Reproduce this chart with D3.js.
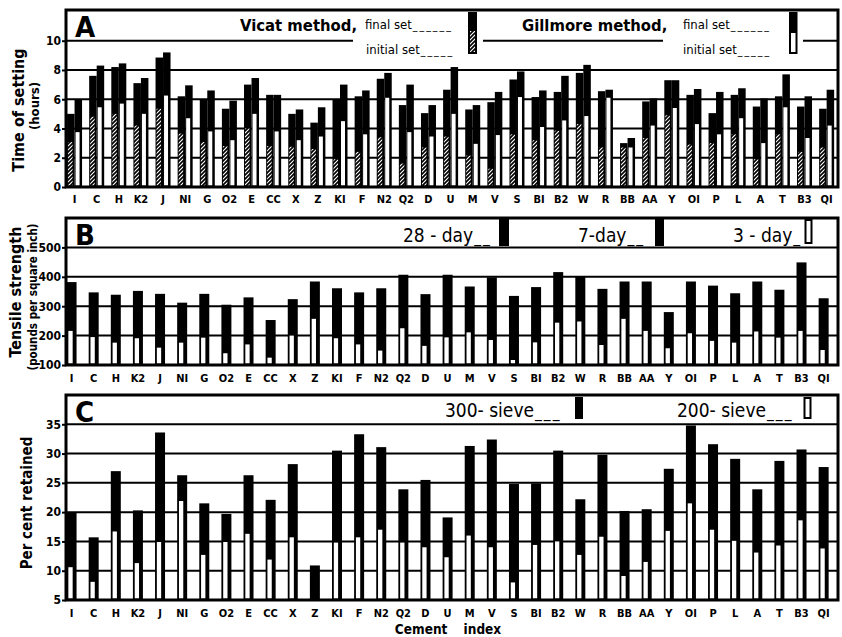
<!DOCTYPE html>
<html>
<head>
<meta charset="utf-8">
<script src="https://cdn.jsdelivr.net/npm/d3@7"></script>
<style>
  body { margin: 0; background: #fff; }
  svg text { font-family: "DejaVu Sans Condensed", "DejaVu Sans", sans-serif; fill: #000; }
</style>
</head>
<body>
<svg id="chart" width="842" height="637"></svg>
<script>
// Cement test results. Three panels share the
// same cement index on x: A setting time, B tensile strength, C fineness.

const cements = ['I', 'C', 'H', 'K2', 'J', 'NI', 'G', 'O2', 'E', 'CC', 'X', 'Z', 'KI', 'F', 'N2', 'Q2', 'D', 'U',
  'M', 'V', 'S', 'BI', 'B2', 'W', 'R', 'BB', 'AA', 'Y', 'OI', 'P', 'L', 'A', 'T', 'B3', 'QI'];

// A: time of setting, hours
const vicatFinal = [5.0, 7.6, 8.2, 7.1, 8.85, 6.2, 5.95, 5.35, 7.0, 6.3, 5.0, 4.4, 6.0, 6.2, 7.4, 5.6, 5.05, 6.65,
  5.3, 5.8, 7.35, 6.15, 6.5, 7.8, 6.55, 3.0, 5.85, 7.3, 6.3, 5.05, 6.3, 5.5, 6.2, 5.5, 5.35];
const vicatInitial = [3.07, 4.8, 5.0, 4.2, 5.35, 3.65, 3.07, 2.8, 4.0, 2.8, 2.75, 2.6, 1.9, 2.4, 3.4, 1.6, 2.7, 3.45,
  2.15, 1.25, 3.6, 3.2, 3.85, 4.3, 2.7, 2.7, 3.35, 4.9, 2.9, 3.0, 3.6, 1.9, 3.6, 2.4, 2.7];
const gillmoreFinal = [5.95, 8.3, 8.45, 7.45, 9.2, 6.95, 6.6, 5.9, 7.45, 6.3, 5.3, 5.45, 7.0, 6.6, 7.8, 7.0, 5.6, 8.2,
  5.6, 6.5, 7.9, 6.6, 7.6, 8.35, 6.65, 3.35, 6.05, 7.3, 6.7, 6.5, 6.75, 6.05, 7.7, 6.2, 6.65];
const gillmoreInitial = [3.75, 5.45, 5.7, 5.0, 6.25, 4.7, 3.8, 3.2, 5.0, 3.8, 3.2, 3.45, 4.5, 3.6, 6.1, 3.75, 3.45, 5.0,
  2.95, 3.55, 6.15, 4.1, 4.55, 4.85, 6.1, 2.7, 4.2, 5.4, 4.3, 3.6, 4.7, 3.0, 5.45, 3.35, 4.2];

// B: tensile strength, pounds per square inch (7-day values are hidden
// inside the black bars in the print, so only 28-day and 3-day are kept)
const tensile28 = [382, 347, 339, 352, 342, 312, 342, 305, 330, 253, 324, 384, 361, 347, 361, 407, 341, 407,
  367, 398, 335, 365, 416, 401, 359, 384, 384, 280, 384, 370, 344, 384, 356, 449, 327];
const tensile3 = [216, 195, 176, 191, 159, 176, 193, 140, 170, 125, 200, 257, 191, 170, 149, 225, 165, 194,
  211, 185, 117, 177, 244, 248, 168, 257, 216, 157, 208, 182, 176, 214, 193, 216, 151];

// C: per cent retained on sieve (Z shows no 200-sieve bar)
const sieve300 = [20.0, 15.7, 27.0, 20.3, 33.6, 26.3, 21.5, 19.7, 26.3, 22.1, 28.2, 10.9, 30.5, 33.3, 31.1, 23.9, 25.5, 19.1,
  31.3, 32.4, 24.8, 24.9, 30.5, 22.2, 29.8, 20.2, 20.5, 27.4, 34.8, 31.6, 29.1, 23.9, 28.75, 30.7, 27.7];
const sieve200 = [10.6, 8.1, 16.7, 11.3, 14.9, 21.9, 12.7, 14.9, 16.3, 11.9, 15.7, null, 14.8, 15.7, 17.0, 14.8, 14.0, 12.3,
  16.0, 14.0, 8.0, 14.4, 15.0, 12.7, 15.8, 9.1, 11.5, 16.8, 21.5, 17.0, 15.1, 13.1, 14.3, 18.6, 13.8];

const ticksA = [0, 2, 4, 6, 8, 10];
const ticksB = [100, 200, 300, 400, 500];
const ticksC = [5, 10, 15, 20, 25, 30, 35];

const d3 = window.d3;
const svg = d3.select('#chart');
const X0 = 66;
const X1 = 838;

const x = d3.scaleBand().domain(cements).range([60.5, 834.7]).padding(0);
const cx = (c) => x(c) + x.bandwidth() / 2;

const yA = d3.scaleLinear().domain([0, 12.1]).range([187, 10]);
const yB = d3.scaleLinear().domain([100, 600]).range([365, 218]);
const yC = d3.scaleLinear().domain([5, 40]).range([600, 395]);

// diagonal hatch for Vicat initial set
const pat = svg.append('defs').append('pattern')
  .attr('id', 'hatch').attr('width', 4).attr('height', 4).attr('patternUnits', 'userSpaceOnUse');
pat.append('rect').attr('width', 4).attr('height', 4).attr('fill', '#fff');
pat.append('path').attr('d', 'M-1,1 l2,-2 M0,4 l4,-4 M3,5 l2,-2').attr('stroke', '#000').attr('stroke-width', 1.7);

function gridLines(y, values) {
  svg.append('g').selectAll('line').data(values).join('line')
    .attr('x1', X0).attr('x2', X1)
    .attr('y1', (d) => y(d)).attr('y2', (d) => y(d))
    .attr('stroke', '#000').attr('stroke-width', 2);
}

function frame(y, ticks, letter, labelY, labelShift) {
  const [lo, hi] = y.domain();
  svg.append('rect')
    .attr('x', X0).attr('y', y(hi))
    .attr('width', X1 - X0).attr('height', y(lo) - y(hi))
    .attr('fill', 'none').attr('stroke', '#000').attr('stroke-width', 3);

  const ax = svg.append('g').attr('transform', `translate(${X0},0)`)
    .call(d3.axisLeft(y).tickValues(ticks).tickSize(4).tickPadding(1));
  ax.select('.domain').remove();
  ax.selectAll('line').attr('stroke', '#000').attr('stroke-width', 2);
  ax.selectAll('text').attr('font-size', 12).attr('font-weight', 'bold').attr('fill', '#000');

  svg.append('g').selectAll('text').data(cements).join('text')
    .attr('x', (c) => cx(c) + labelShift).attr('y', labelY)
    .attr('text-anchor', 'middle').attr('font-size', 11).attr('font-weight', 'bold')
    .text((c) => c);

  svg.append('text').attr('x', 75).attr('y', y(hi) + 27)
    .attr('font-size', 29).attr('font-weight', 'bold').text(letter);
}

// text followed by a spaced underscore leader that runs up to `end`
function leaderLabel({ text, x0, y, end, size, weight = 'normal' }) {
  const t = svg.append('text').attr('x', x0).attr('y', y)
    .attr('font-size', size).attr('font-weight', weight).text(text);
  const start = x0 + t.node().getComputedTextLength() + 1;
  const lead = svg.append('text').attr('x', start).attr('y', y)
    .attr('font-size', size * 0.8).attr('letter-spacing', 2).text('_');
  const unit = lead.node().getComputedTextLength() + 2;
  lead.text('_'.repeat(Math.max(1, Math.floor((end - start) / unit))));
}

function yTitle(text, cxp, cyp, size) {
  svg.append('text')
    .attr('transform', `translate(${cxp},${cyp}) rotate(-90)`)
    .attr('text-anchor', 'middle').attr('dominant-baseline', 'middle')
    .attr('font-size', size).attr('font-weight', 'bold').text(text);
}

// ---------------- Panel A ----------------
gridLines(yA, [2, 4, 6, 8]);
// 10-hour line is broken where the legend entries sit
[[X0, 353], [483, 663], [803, X1]].forEach(([a, b]) => {
  svg.append('line').attr('x1', a).attr('x2', b).attr('y1', yA(10)).attr('y2', yA(10))
    .attr('stroke', '#000').attr('stroke-width', 2);
});

const A_SHIFT = 3;
const A_BAR = 7.5;
const rowsA = cements.map((c, i) => ({
  c, vf: vicatFinal[i], vi: vicatInitial[i], gf: gillmoreFinal[i], gi: gillmoreInitial[i],
}));
const gA = svg.append('g');
gA.selectAll('rect.vf').data(rowsA).join('rect').attr('class', 'vf')
  .attr('x', (d) => cx(d.c) + A_SHIFT - A_BAR).attr('width', A_BAR)
  .attr('y', (d) => yA(d.vf)).attr('height', (d) => yA(0) - yA(d.vf)).attr('fill', '#000');
gA.selectAll('rect.gf').data(rowsA).join('rect').attr('class', 'gf')
  .attr('x', (d) => cx(d.c) + A_SHIFT).attr('width', A_BAR)
  .attr('y', (d) => yA(d.gf)).attr('height', (d) => yA(0) - yA(d.gf)).attr('fill', '#000');
gA.selectAll('rect.vi').data(rowsA).join('rect').attr('class', 'vi')
  .attr('x', (d) => cx(d.c) + A_SHIFT - A_BAR + 1).attr('width', 4.5)
  .attr('y', (d) => yA(d.vi)).attr('height', (d) => yA(0) - yA(d.vi) - 1.5).attr('fill', 'url(#hatch)');
gA.selectAll('rect.gi').data(rowsA).join('rect').attr('class', 'gi')
  .attr('x', (d) => cx(d.c) + A_SHIFT + 1).attr('width', 4)
  .attr('y', (d) => yA(d.gi)).attr('height', (d) => yA(0) - yA(d.gi) - 1.5).attr('fill', '#fff');

frame(yA, ticksA, 'A', 203, A_SHIFT);

svg.append('text').attr('x', 240).attr('y', 31).attr('font-size', 16.5).attr('font-weight', 'bold').text('Vicat method,');
leaderLabel({ text: 'final set', x0: 365, y: 29, end: 465, size: 13 });
leaderLabel({ text: 'initial set', x0: 366, y: 54, end: 465, size: 13 });
svg.append('rect').attr('x', 468).attr('y', 12).attr('width', 9).attr('height', 42).attr('fill', '#000');
svg.append('rect').attr('x', 470).attr('y', 31).attr('width', 5).attr('height', 21).attr('fill', 'url(#hatch)');

svg.append('text').attr('x', 522).attr('y', 31).attr('font-size', 16.5).attr('font-weight', 'bold').text('Gillmore method,');
leaderLabel({ text: 'final set', x0: 683, y: 29, end: 787, size: 13 });
leaderLabel({ text: 'initial set', x0: 683, y: 54, end: 787, size: 13 });
svg.append('rect').attr('x', 789).attr('y', 12).attr('width', 8.5).attr('height', 42).attr('fill', '#000');
svg.append('rect').attr('x', 791).attr('y', 33).attr('width', 4.5).attr('height', 19).attr('fill', '#fff');

// ---------------- Panel B ----------------
gridLines(yB, [200, 300, 400, 500]);
const rowsB = cements.map((c, i) => ({ c, t28: tensile28[i], t3: tensile3[i] }));
const gB = svg.append('g');
gB.selectAll('rect.t28').data(rowsB).join('rect').attr('class', 't28')
  .attr('x', (d) => cx(d.c) - 5).attr('width', 10)
  .attr('y', (d) => yB(d.t28)).attr('height', (d) => yB(100) - yB(d.t28)).attr('fill', '#000');
gB.selectAll('rect.t3').data(rowsB).join('rect').attr('class', 't3')
  .attr('x', (d) => cx(d.c) - 3.2).attr('width', 4.3)
  .attr('y', (d) => yB(d.t3)).attr('height', (d) => yB(100) - yB(d.t3) - 1.5).attr('fill', '#fff');

frame(yB, ticksB, 'B', 382, 0);

leaderLabel({ text: '28 - day', x0: 403, y: 242, end: 497, size: 19 });
svg.append('rect').attr('x', 499).attr('y', 219).attr('width', 10).attr('height', 27).attr('fill', '#000');
leaderLabel({ text: '7-day', x0: 578, y: 242, end: 653, size: 19 });
svg.append('rect').attr('x', 655).attr('y', 219).attr('width', 9).attr('height', 27).attr('fill', '#000');
leaderLabel({ text: '3 - day', x0: 733, y: 242, end: 803, size: 19 });
svg.append('rect').attr('x', 805.5).attr('y', 220).attr('width', 6).attr('height', 23)
  .attr('fill', '#fff').attr('stroke', '#000').attr('stroke-width', 2);

// ---------------- Panel C ----------------
gridLines(yC, [10, 15, 20, 25, 30, 35]);
const rowsC = cements.map((c, i) => ({ c, s300: sieve300[i], s200: sieve200[i] }));
const gC = svg.append('g');
gC.selectAll('rect.s300').data(rowsC).join('rect').attr('class', 's300')
  .attr('x', (d) => cx(d.c) - 5).attr('width', 10)
  .attr('y', (d) => yC(d.s300)).attr('height', (d) => yC(5) - yC(d.s300)).attr('fill', '#000');
gC.selectAll('rect.s200').data(rowsC.filter((d) => d.s200 != null)).join('rect').attr('class', 's200')
  .attr('x', (d) => cx(d.c) - 3.2).attr('width', 4.3)
  .attr('y', (d) => yC(d.s200)).attr('height', (d) => yC(5) - yC(d.s200) - 1.5).attr('fill', '#fff');

frame(yC, ticksC, 'C', 617, 0);

leaderLabel({ text: '300- sieve', x0: 445, y: 417, end: 572, size: 19 });
svg.append('rect').attr('x', 575).attr('y', 397).attr('width', 8).attr('height', 22).attr('fill', '#000');
leaderLabel({ text: '200- sieve', x0: 677, y: 417, end: 801, size: 19 });
svg.append('rect').attr('x', 804.5).attr('y', 398).attr('width', 6).attr('height', 20)
  .attr('fill', '#fff').attr('stroke', '#000').attr('stroke-width', 2);

// ---------------- Axis titles ----------------
yTitle('Time of setting', 19, 110, 16);
yTitle('(hours)', 35, 106, 13);
yTitle('Tensile strength', 16, 292, 16);
yTitle('(pounds per square inch)', 33, 297, 11.5);
yTitle('Per cent retained', 27, 503, 15);

svg.append('text').attr('x', 448).attr('y', 634).attr('text-anchor', 'middle')
  .attr('font-size', 13.5).attr('font-weight', 'bold').attr('word-spacing', 12).text('Cement index');
</script>
</body>
</html>
